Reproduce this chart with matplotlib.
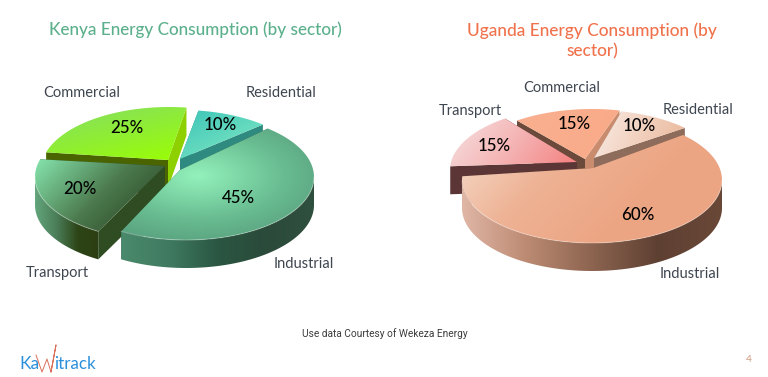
import numpy as np
import matplotlib
matplotlib.use("Agg")
import matplotlib.pyplot as plt
from matplotlib.path import Path
from matplotlib.patches import PathPatch
from matplotlib.colors import to_rgb

# ---------- data ----------
kenya_title = "Kenya Energy Consumption (by sector)"
uganda_title = "Uganda Energy Consumption (by\nsector)"
sectors = ["Residential", "Commercial", "Transport", "Industrial"]
kenya_values = [10, 25, 20, 45]
uganda_values = [10, 15, 15, 60]
footer = "Use data Courtesy of Wekeza Energy"
page_number = "4"

# ---------- layout / style ----------
FONT = "Lato"
k_layout = dict(
    center=(186, 177), rx=128, ry=63, depth=28, start=45,
    offset=[(-5, -4), (-17, -7), (-23, 0), (0, 0)],
    apex=[(-1, -14), (-1, -10), (2, -11), (-6, -7)],
    order=[1, 0, 2, 3],
    label_xy=[(281, 93), (82, 93), (57, 272.5), (304, 263.5)],
    pct_xy=[(220, 125), (127, 128), (80, 189), (238, 198)],
)
u_layout = dict(
    center=(592, 180), rx=130, ry=63, depth=28, start=40,
    offset=[(2, -7), (0, -8), (-12, -10), (0, 0)],
    apex=[(0, -15), (-7, -13), (-3, -8), (1, -12)],
    order=[1, 2, 0, 3],
    label_xy=[(698, 110.5), (562, 88.5), (470, 110.5), (690, 273.5)],
    pct_xy=[(639, 126), (574, 124), (494, 146), (638, 215)],
)
k_style = [
    dict(top=((-0.5, -1), ["#86ecc4", "#3cc4b8"]), wall_s="#2f8a80", wall_e="#2f8a80", outer=["#2f8a80", "#2f8a80"]),
    dict(top=((0.25, 1), ["#84dc68", "#9bff00"]), wall_s="#8fd000", wall_e="#4a6400", outer=["#7cc010", "#7cc010"]),
    dict(top=((1, 1), ["#86e6ae", "#4c7a4e", "#22391a"]), wall_s="#2f4c22", wall_e="#2f4c22",
         outer=["#63a57c", "#4a7d58", "#2c4416", "#2c3f14"]),
    dict(radial=(198, 176), top=(None, ["#93f2bc", "#68bb90", "#4f9074"]), wall_s="#2f5040", wall_e="#2f5040",
         outer=["#4a8a6c", "#3f7a60", "#2a5642", "#2b4a3a", "#30503f"]),
]
u_style = [
    dict(top=((1, 0.45), ["#f9ecE6", "#eab596"]), wall_s="#8e6c5c", wall_e="#8e6c5c", outer=["#8e6c5c", "#8e6c5c"]),
    dict(top=((1, 0.3), ["#f9b090", "#f9aa88"]), wall_s="#c98c6e", wall_e="#6b4a3b", outer=["#c98c6e", "#c98c6e"]),
    dict(top=((0.8, 0.6), ["#f6e2e2", "#f5b4b4", "#f47f7f"]), wall_s="#5c3434", wall_e="#5c3636", outer=["#5c3c3c", "#5c3c3c"]),
    dict(top=((0.8, 0.75), ["#f6dccc", "#eeb294", "#eca583", "#eca583"]), wall_s="#6a4838", wall_e="#6a4838",
         outer=["#e0b6a6", "#bc8a72", "#8c6450", "#5e4032", "#6a4838"]),
]
k_title_color = "#5cb08c"
u_title_color = "#f0724c"

fig = plt.figure(figsize=(7.68, 3.77), dpi=100)
ax = fig.add_axes([0, 0, 1, 1])
ax.set_axis_off()


def persp(theta_deg):
    """Foreshortening of a true pie angle on the tilted disc."""
    return theta_deg + 7.4 * np.cos(np.radians(theta_deg))


def multi(t, stops):
    cols = np.array([to_rgb(c) for c in stops])
    pos = np.linspace(0, 1, len(stops))
    return np.dstack([np.interp(t, pos, cols[:, i]) for i in range(3)])


def fill(verts, stops, direction=(1, 0), radial=None, z=1):
    verts = np.asarray(verts)
    path = Path(np.vstack([verts, verts[0]]), closed=True)
    x0, y0 = verts.min(axis=0)
    x1, y1 = verts.max(axis=0)
    x1, y1 = x1 + 1, y1 + 1
    xs = np.linspace(x0, x1, max(int((x1 - x0) * 2), 2))
    ys = np.linspace(y0, y1, max(int((y1 - y0) * 2), 2))
    X, Y = np.meshgrid(xs, ys)
    if radial is not None:
        d = np.hypot((X - radial[0]) / 2.0, Y - radial[1])
        t = np.clip(d / d.max(), 0, 1)
    else:
        p = X * direction[0] + Y * direction[1]
        t = (p - p.min()) / max(p.max() - p.min(), 1e-6)
    im = ax.imshow(multi(t, stops), extent=(x0, x1, y1, y0), aspect="auto",
                   interpolation="bilinear", zorder=z)
    patch = PathPatch(path, transform=ax.transData, fc="none", ec="none")
    ax.add_patch(patch)
    im.set_clip_path(patch)


def draw_pie(values, layout, styles):
    cx, cy = layout["center"]
    rx, ry, depth = layout["rx"], layout["ry"], layout["depth"]
    ends = layout["start"] + np.cumsum(values) * 3.6
    starts = ends - np.asarray(values) * 3.6
    z = 1
    for i in layout["order"]:
        st = styles[i]
        ox, oy = layout["offset"][i]
        ax_, ay_ = layout["apex"][i]
        c = np.array([cx + ox, cy + oy], float)
        apex = c + (ax_, ay_)
        th = np.linspace(starts[i], ends[i], 100)
        t = np.radians(persp(th))
        arc = np.column_stack([c[0] + rx * np.cos(t), c[1] - ry * np.sin(t)])
        down = np.array([0, depth])
        fill([apex, arc[0], arc[0] + down, apex + down],
             [st["wall_s"], st["wall_s"]], z=z)
        fill([apex, arc[-1], arc[-1] + down, apex + down],
             [st["wall_e"], st["wall_e"]], z=z + 0.1)
        front = np.sin(t) < 0.02
        if front.any():
            a = arc[front]
            fill(np.vstack([a, (a + down)[::-1]]), st["outer"], (1, 0), z=z + 0.2)
            ax.plot(a[:, 0], a[:, 1], color="white", alpha=0.28, lw=0.8, zorder=z + 0.4)
        top = np.vstack([apex, arc])
        fill(top, st["top"][1], st["top"][0] if "radial" not in st else (1, 0),
             radial=st.get("radial"), z=z + 0.3)
        z += 1
    for i, name in enumerate(sectors):
        ax.text(*layout["label_xy"][i], name, ha="center", va="center",
                fontsize=10.5, color="#3e4650", family=FONT, zorder=30)
        ax.text(*layout["pct_xy"][i], f"{values[i]}%", ha="center", va="center",
                fontsize=12.2, color="black", family=FONT, fontweight="medium", zorder=30)


draw_pie(kenya_values, k_layout, k_style)
draw_pie(uganda_values, u_layout, u_style)

ax.text(195.5, 30, kenya_title, ha="center", va="center", fontsize=12.3,
        color=k_title_color, family=FONT, fontweight="medium")
ax.text(592, 41, uganda_title, ha="center", va="center", fontsize=12.4,
        color=u_title_color, family=FONT, fontweight="medium", linespacing=1.35)
ax.text(385, 334, footer, ha="center", va="center", fontsize=7.3,
        color="#3c3c3c", family="Roboto")
ax.text(749, 360, page_number, ha="center", va="center", fontsize=7.5,
        color="#d09a80", family=FONT)

# wordmark
ax.text(19, 364, "Ka", ha="left", va="center", fontsize=12.5, color="#2a90dc", family=FONT)
ax.text(54, 364, "itrack", ha="left", va="center", fontsize=12.2, color="#2a90dc", family=FONT)
ax.plot([36, 42, 47, 51, 56, 51], [355, 372, 359, 372, 345, 372],
        color="#d9705a", lw=0.7, zorder=5)

ax.set_xlim(0, 768)
ax.set_ylim(377, 0)
fig.savefig("out.png", dpi=100, facecolor="white")
